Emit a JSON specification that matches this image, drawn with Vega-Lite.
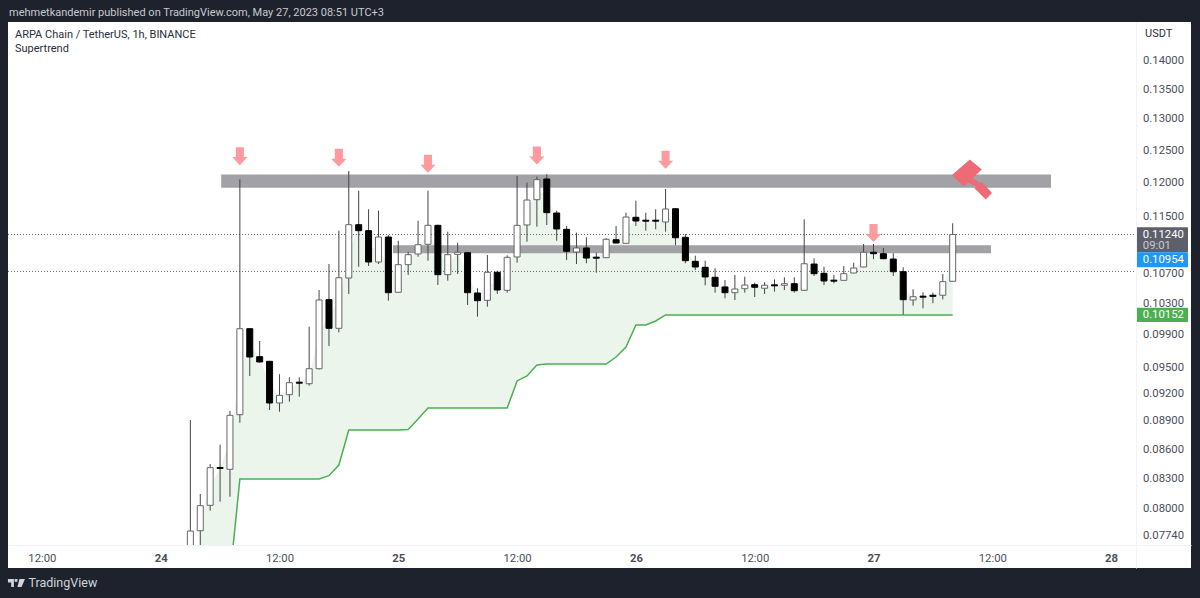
{
"$schema":"https://vega.github.io/schema/vega-lite/v6.json",
"width":1183,"height":546,
"autosize":{"type":"none"},
"padding":{"left":8,"top":22,"right":9,"bottom":30},
"background":"#1e222d",
"view":{"fill":"#ffffff","stroke":null},
"config":{"font":"Roboto","text":{"font":"Roboto"}},
"datasets":{
"candles":[
{"t":"2023-05-24T03:00Z","open":0.07499,"high":0.08900,"low":0.07451,"close":0.07778},
{"t":"2023-05-24T04:00Z","open":0.07781,"high":0.08140,"low":0.07596,"close":0.08023,"st":0.07114,"mid":0.07902},
{"t":"2023-05-24T05:00Z","open":0.08027,"high":0.08445,"low":0.07974,"close":0.08407,"st":0.07210,"mid":0.08215},
{"t":"2023-05-24T06:00Z","open":0.08409,"high":0.08644,"low":0.08063,"close":0.08399,"st":0.07259,"mid":0.08404},
{"t":"2023-05-24T07:00Z","open":0.08390,"high":0.09000,"low":0.08113,"close":0.08952,"st":0.07331,"mid":0.08669},
{"t":"2023-05-24T08:00Z","open":0.08959,"high":0.12042,"low":0.08872,"close":0.09975,"st":0.08290,"mid":0.09446},
{"t":"2023-05-24T09:00Z","open":0.09975,"high":0.09978,"low":0.09396,"close":0.09623,"st":0.08290,"mid":0.09797},
{"t":"2023-05-24T10:00Z","open":0.09627,"high":0.09820,"low":0.09556,"close":0.09562,"st":0.08290,"mid":0.09594},
{"t":"2023-05-24T11:00Z","open":0.09570,"high":0.09575,"low":0.09011,"close":0.09089,"st":0.08290,"mid":0.09327},
{"t":"2023-05-24T12:00Z","open":0.09089,"high":0.09416,"low":0.08992,"close":0.09174,"st":0.08290,"mid":0.09133},
{"t":"2023-05-24T13:00Z","open":0.09181,"high":0.09381,"low":0.09103,"close":0.09319,"st":0.08290,"mid":0.09250},
{"t":"2023-05-24T14:00Z","open":0.09325,"high":0.09381,"low":0.09159,"close":0.09313,"st":0.08290,"mid":0.09319},
{"t":"2023-05-24T15:00Z","open":0.09307,"high":0.10001,"low":0.09284,"close":0.09480,"st":0.08290,"mid":0.09394},
{"t":"2023-05-24T16:00Z","open":0.09480,"high":0.10477,"low":0.09471,"close":0.10346,"st":0.08290,"mid":0.09903},
{"t":"2023-05-24T17:00Z","open":0.10350,"high":0.10826,"low":0.09758,"close":0.09980,"st":0.08324,"mid":0.10165},
{"t":"2023-05-24T18:00Z","open":0.09980,"high":0.11294,"low":0.09928,"close":0.10638,"st":0.08434,"mid":0.10307},
{"t":"2023-05-24T19:00Z","open":0.10634,"high":0.12172,"low":0.10425,"close":0.11378,"st":0.08797,"mid":0.11005},
{"t":"2023-05-24T20:00Z","open":0.11378,"high":0.11872,"low":0.10788,"close":0.11294,"st":0.08797,"mid":0.11336},
{"t":"2023-05-24T21:00Z","open":0.11294,"high":0.11599,"low":0.10798,"close":0.10854,"st":0.08797,"mid":0.11075},
{"t":"2023-05-24T22:00Z","open":0.10854,"high":0.11579,"low":0.10826,"close":0.11205,"st":0.08797,"mid":0.11030},
{"t":"2023-05-24T23:00Z","open":0.11205,"high":0.11233,"low":0.10337,"close":0.10442,"st":0.08797,"mid":0.10815},
{"t":"2023-05-25T00:00Z","open":0.10447,"high":0.11153,"low":0.10445,"close":0.10817,"st":0.08797,"mid":0.10628},
{"t":"2023-05-25T01:00Z","open":0.10817,"high":0.10999,"low":0.10674,"close":0.10957,"st":0.08802,"mid":0.10887},
{"t":"2023-05-25T02:00Z","open":0.10967,"high":0.11434,"low":0.10929,"close":0.11097,"st":0.08911,"mid":0.11033},
{"t":"2023-05-25T03:00Z","open":0.11103,"high":0.11872,"low":0.10873,"close":0.11369,"st":0.09033,"mid":0.11236},
{"t":"2023-05-25T04:00Z","open":0.11369,"high":0.11378,"low":0.10543,"close":0.10678,"st":0.09033,"mid":0.11023},
{"t":"2023-05-25T05:00Z","open":0.10678,"high":0.11280,"low":0.10599,"close":0.10957,"st":0.09033,"mid":0.10818},
{"t":"2023-05-25T06:00Z","open":0.10962,"high":0.11125,"low":0.10687,"close":0.10991,"st":0.09033,"mid":0.10976},
{"t":"2023-05-25T07:00Z","open":0.10985,"high":0.10988,"low":0.10281,"close":0.10442,"st":0.09033,"mid":0.10704},
{"t":"2023-05-25T08:00Z","open":0.10438,"high":0.10500,"low":0.10130,"close":0.10337,"st":0.09033,"mid":0.10387},
{"t":"2023-05-25T09:00Z","open":0.10342,"high":0.10953,"low":0.10259,"close":0.10710,"st":0.09033,"mid":0.10526},
{"t":"2023-05-25T10:00Z","open":0.10710,"high":0.10732,"low":0.10425,"close":0.10477,"st":0.09033,"mid":0.10595},
{"t":"2023-05-25T11:00Z","open":0.10473,"high":0.10948,"low":0.10442,"close":0.10920,"st":0.09033,"mid":0.10690},
{"t":"2023-05-25T12:00Z","open":0.10925,"high":0.12094,"low":0.10845,"close":0.11369,"st":0.09339,"mid":0.11146},
{"t":"2023-05-25T13:00Z","open":0.11374,"high":0.11990,"low":0.11139,"close":0.11735,"st":0.09396,"mid":0.11551},
{"t":"2023-05-25T14:00Z","open":0.11740,"high":0.12083,"low":0.11350,"close":0.12036,"st":0.09525,"mid":0.11887},
{"t":"2023-05-25T15:00Z","open":0.12047,"high":0.12120,"low":0.11374,"close":0.11549,"st":0.09537,"mid":0.11796},
{"t":"2023-05-25T16:00Z","open":0.11544,"high":0.11579,"low":0.11153,"close":0.11318,"st":0.09537,"mid":0.11430},
{"t":"2023-05-25T17:00Z","open":0.11313,"high":0.11360,"low":0.10882,"close":0.11005,"st":0.09537,"mid":0.11159},
{"t":"2023-05-25T18:00Z","open":0.10995,"high":0.11266,"low":0.10826,"close":0.11051,"st":0.09537,"mid":0.11023},
{"t":"2023-05-25T19:00Z","open":0.11051,"high":0.11201,"low":0.10836,"close":0.10910,"st":0.09537,"mid":0.10981},
{"t":"2023-05-25T20:00Z","open":0.10922,"high":0.10985,"low":0.10704,"close":0.10908,"st":0.09537,"mid":0.10915},
{"t":"2023-05-25T21:00Z","open":0.10915,"high":0.11191,"low":0.10912,"close":0.11173,"st":0.09537,"mid":0.11044},
{"t":"2023-05-25T22:00Z","open":0.11167,"high":0.11360,"low":0.11118,"close":0.11121,"st":0.09623,"mid":0.11145},
{"t":"2023-05-25T23:00Z","open":0.11117,"high":0.11549,"low":0.11114,"close":0.11486,"st":0.09746,"mid":0.11304},
{"t":"2023-05-26T00:00Z","open":0.11482,"high":0.11725,"low":0.11360,"close":0.11430,"st":0.10023,"mid":0.11458},
{"t":"2023-05-26T01:00Z","open":0.11441,"high":0.11549,"low":0.11294,"close":0.11427,"st":0.10023,"mid":0.11434},
{"t":"2023-05-26T02:00Z","open":0.11441,"high":0.11599,"low":0.11313,"close":0.11427,"st":0.10074,"mid":0.11434},
{"t":"2023-05-26T03:00Z","open":0.11416,"high":0.11897,"low":0.11280,"close":0.11603,"st":0.10152,"mid":0.11507},
{"t":"2023-05-26T04:00Z","open":0.11607,"high":0.11613,"low":0.11089,"close":0.11195,"st":0.10152,"mid":0.11399},
{"t":"2023-05-26T05:00Z","open":0.11201,"high":0.11247,"low":0.10836,"close":0.10873,"st":0.10152,"mid":0.11037},
{"t":"2023-05-26T06:00Z","open":0.10864,"high":0.10943,"low":0.10742,"close":0.10784,"st":0.10152,"mid":0.10825},
{"t":"2023-05-26T07:00Z","open":0.10780,"high":0.10873,"low":0.10539,"close":0.10648,"st":0.10152,"mid":0.10711},
{"t":"2023-05-26T08:00Z","open":0.10644,"high":0.10766,"low":0.10442,"close":0.10526,"st":0.10152,"mid":0.10585},
{"t":"2023-05-26T09:00Z","open":0.10517,"high":0.10608,"low":0.10368,"close":0.10442,"st":0.10152,"mid":0.10479},
{"t":"2023-05-26T10:00Z","open":0.10442,"high":0.10674,"low":0.10346,"close":0.10490,"st":0.10152,"mid":0.10465},
{"t":"2023-05-26T11:00Z","open":0.10494,"high":0.10652,"low":0.10442,"close":0.10542,"st":0.10152,"mid":0.10517},
{"t":"2023-05-26T12:00Z","open":0.10547,"high":0.10573,"low":0.10385,"close":0.10513,"st":0.10152,"mid":0.10529},
{"t":"2023-05-26T13:00Z","open":0.10500,"high":0.10578,"low":0.10425,"close":0.10539,"st":0.10152,"mid":0.10519},
{"t":"2023-05-26T14:00Z","open":0.10545,"high":0.10617,"low":0.10455,"close":0.10532,"st":0.10152,"mid":0.10539},
{"t":"2023-05-26T15:00Z","open":0.10539,"high":0.10644,"low":0.10477,"close":0.10560,"st":0.10152,"mid":0.10549},
{"t":"2023-05-26T16:00Z","open":0.10560,"high":0.10644,"low":0.10442,"close":0.10468,"st":0.10152,"mid":0.10514},
{"t":"2023-05-26T17:00Z","open":0.10473,"high":0.11454,"low":0.10470,"close":0.10830,"st":0.10152,"mid":0.10648},
{"t":"2023-05-26T18:00Z","open":0.10826,"high":0.10906,"low":0.10661,"close":0.10691,"st":0.10152,"mid":0.10758},
{"t":"2023-05-26T19:00Z","open":0.10696,"high":0.10788,"low":0.10543,"close":0.10595,"st":0.10152,"mid":0.10645},
{"t":"2023-05-26T20:00Z","open":0.10606,"high":0.10674,"low":0.10565,"close":0.10593,"st":0.10152,"mid":0.10599},
{"t":"2023-05-26T21:00Z","open":0.10604,"high":0.10798,"low":0.10601,"close":0.10691,"st":0.10152,"mid":0.10648},
{"t":"2023-05-26T22:00Z","open":0.10700,"high":0.10845,"low":0.10698,"close":0.10770,"st":0.10152,"mid":0.10735},
{"t":"2023-05-26T23:00Z","open":0.10784,"high":0.11107,"low":0.10782,"close":0.10991,"st":0.10152,"mid":0.10888},
{"t":"2023-05-27T00:00Z","open":0.10991,"high":0.11107,"low":0.10896,"close":0.10971,"st":0.10152,"mid":0.10981},
{"t":"2023-05-27T01:00Z","open":0.10971,"high":0.11051,"low":0.10892,"close":0.10901,"st":0.10152,"mid":0.10936},
{"t":"2023-05-27T02:00Z","open":0.10896,"high":0.10976,"low":0.10661,"close":0.10718,"st":0.10152,"mid":0.10809},
{"t":"2023-05-27T03:00Z","open":0.10718,"high":0.10780,"low":0.10156,"close":0.10350,"st":0.10152,"mid":0.10533},
{"t":"2023-05-27T04:00Z","open":0.10346,"high":0.10486,"low":0.10272,"close":0.10389,"st":0.10152,"mid":0.10368},
{"t":"2023-05-27T05:00Z","open":0.10396,"high":0.10447,"low":0.10238,"close":0.10383,"st":0.10152,"mid":0.10389},
{"t":"2023-05-27T06:00Z","open":0.10408,"high":0.10442,"low":0.10303,"close":0.10394,"st":0.10152,"mid":0.10401},
{"t":"2023-05-27T07:00Z","open":0.10408,"high":0.10687,"low":0.10355,"close":0.10586,"st":0.10152,"mid":0.10497},
{"t":"2023-05-27T08:00Z","open":0.10591,"high":0.11398,"low":0.10589,"close":0.11240,"st":0.10152,"mid":0.10910}
]
},
"layer":[
{"data":{"name":"candles"},"transform":[{"filter":"isValid(datum.st)"}],
 "mark":{"type":"area","fill":"#ebf5ec","stroke":null,"interpolate":"linear","clip":true},
 "encoding":{
  "x":{"field":"t","type":"temporal","title":null,
   "scale":{"type":"utc","domain":["2023-05-23T08:34:48Z","2023-05-28T08:04:12Z"],"nice":false,"padding":0},
   "axis":{"orient":"bottom","offset":-23,"grid":false,"ticks":false,"domain":true,"domainColor":"#f0f3fa","domainWidth":1,"labelPadding":7,"labelFontSize":11.3,"labelColor":"#4a4e59","labelFont":"Roboto","labelFlush":false,"labelOverlap":false,"zindex":1,"tickCount":30,
    "values":["2023-05-23T12:00:00Z","2023-05-24T00:00:00Z","2023-05-24T12:00:00Z","2023-05-25T00:00:00Z","2023-05-25T12:00:00Z","2023-05-26T00:00:00Z","2023-05-26T12:00:00Z","2023-05-27T00:00:00Z","2023-05-27T12:00:00Z","2023-05-28T00:00:00Z"],
    "labelExpr":"utchours(datum.value)===0 ? utcFormat(datum.value,'%-d') : utcFormat(datum.value,'%H:%M')",
    "labelFontWeight":{"condition":{"test":"utchours(datum.value)===0","value":"bold"},"value":"normal"}}},
  "y":{"field":"mid","type":"quantitative","title":null,
   "scale":{"type":"linear","nice":false,"zero":false,
    "domain":[0.07422,0.0774,0.08,0.083,0.086,0.089,0.092,0.095,0.099,0.103,0.107,0.115,0.12,0.125,0.13,0.135,0.14,0.14674],
    "range":[546,513,486,456,427,398,371,345,312.5,281.5,251,194,160,128,96.5,67,38.5,0]},
   "axis":{"orient":"right","offset":-55,"grid":false,"ticks":false,"domain":true,"domainColor":"#f0f3fa","domainWidth":1,"labelPadding":6.5,"labelFontSize":11.3,"labelColor":"#4a4e59","labelFont":"Roboto","labelOverlap":false,"labelFlush":false,"zindex":1,"tickCount":40,
    "values":[0.0774,0.08,0.083,0.086,0.089,0.092,0.095,0.099,0.103,0.107,0.115,0.12,0.125,0.13,0.135,0.14],
    "format":".5f"}},
  "y2":{"field":"st"}
 }},
{"data":{"values":[{"a":"2023-05-24T06:07Z","b":"2023-05-27T17:56Z","top":0.12117,"bot":0.11916},{"a":"2023-05-24T23:28Z","b":"2023-05-27T11:52Z","top":0.11089,"bot":0.10976}]},
 "mark":{"type":"rect","fill":"#a1a1a6"},
 "encoding":{"x":{"field":"a","type":"temporal"},"x2":{"field":"b"},"y":{"field":"top","type":"quantitative"},"y2":{"field":"bot"}}},
{"data":{"values":[{"a":"2023-05-23T08:35Z","b":"2023-05-28T02:31Z","p":0.1124},{"a":"2023-05-23T08:35Z","b":"2023-05-28T02:31Z","p":0.10722}]},
 "mark":{"type":"rule","stroke":"#5d606b","strokeWidth":1,"strokeDash":[1,2]},
 "encoding":{"x":{"field":"a","type":"temporal"},"x2":{"field":"b"},"y":{"field":"p","type":"quantitative"}}},
{"data":{"name":"candles"},"transform":[{"filter":"isValid(datum.st)"}],
 "mark":{"type":"line","stroke":"#4caf50","strokeWidth":1.5,"clip":true},
 "encoding":{"x":{"field":"t","type":"temporal"},"y":{"field":"st","type":"quantitative"}}},
{"data":{"name":"candles"},
 "mark":{"type":"rule","stroke":"#444444","strokeWidth":1},
 "encoding":{"x":{"field":"t","type":"temporal"},"y":{"field":"low","type":"quantitative"},"y2":{"field":"high"}}},
{"data":{"name":"candles"},
 "mark":{"type":"bar","size":6,"strokeWidth":1},
 "encoding":{"x":{"field":"t","type":"temporal"},"y":{"field":"open","type":"quantitative"},"y2":{"field":"close"},
  "fill":{"condition":{"test":"datum.close<datum.open","value":"#000000"},"value":"#ffffff"},
  "stroke":{"condition":{"test":"datum.close<datum.open","value":"#000000"},"value":"#666666"}}},
{"data":{"values":[{"t":"2023-05-24T08:00Z","p":0.12403},{"t":"2023-05-24T18:00Z","p":0.12378},{"t":"2023-05-25T03:00Z","p":0.12284},{"t":"2023-05-25T14:00Z","p":0.12414},{"t":"2023-05-26T03:00Z","p":0.12348},{"t":"2023-05-27T00:00Z","p":0.11261}]},
 "mark":{"type":"point","filled":true,"fill":"#ff9a9e","opacity":1,"strokeWidth":0,"size":324,"shape":"M-0.45,-1 L0.45,-1 L0.45,0.1 L0.85,0.1 L0,1 L-0.85,0.1 L-0.45,0.1 Z"},
 "encoding":{"x":{"field":"t","type":"temporal"},"y":{"field":"p","type":"quantitative"}}},
{"data":{"values":[{"t":"2023-05-27T09:57Z","p":0.12039}]},
 "mark":{"type":"point","filled":true,"fill":"#ef6a77","opacity":1,"strokeWidth":0,"size":1600,"shape":"M-0.11,-1 L0.49,-0.5 L-0.42,0.35 L-1,-0.22 Z M0.01,-0.06 L0.44,0.19 L0.23,0.38 L-0.2,0.14 Z M0.49,0.11 L1,0.67 L0.69,1 L0.11,0.43 Z"},
 "encoding":{"x":{"field":"t","type":"temporal"},"y":{"field":"p","type":"quantitative"}}},
{"data":{"values":[{"a":"2023-05-23T08:34:48Z","b":"2023-05-28T08:04:12Z","top":0.07644,"bot":0.07422}]},
 "mark":{"type":"rect","fill":"#ffffff"},
 "encoding":{"x":{"field":"a","type":"temporal"},"x2":{"field":"b"},"y":{"field":"top","type":"quantitative"},"y2":{"field":"bot"}}},
{"data":{"values":[{"a":"2023-05-28T02:31Z","b":"2023-05-28T07:46Z","top":0.11341,"bot":0.1099,"c":"dark"},{"a":"2023-05-28T02:31Z","b":"2023-05-28T07:46Z","top":0.1099,"bot":0.1078,"c":"blue"},{"a":"2023-05-28T02:31Z","b":"2023-05-28T07:46Z","top":0.10246,"bot":0.10061,"c":"green"}]},
 "mark":{"type":"rect","cornerRadius":1},
 "encoding":{"x":{"field":"a","type":"temporal"},"x2":{"field":"b"},"y":{"field":"top","type":"quantitative"},"y2":{"field":"bot"},
  "fill":{"field":"c","type":"nominal","legend":null,"scale":{"domain":["dark","blue","green"],"range":["#5d606b","#2196f3","#4caf50"]}}}},
{"data":{"values":[{"t":"2023-05-28T03:12Z","p":0.1124,"label":"0.11240"},{"t":"2023-05-28T03:12Z","p":0.10882,"label":"0.10954"},{"t":"2023-05-28T03:12Z","p":0.10152,"label":"0.10152"}]},
 "mark":{"type":"text","align":"left","baseline":"middle","fontSize":11.3,"fill":"#ffffff","font":"Roboto"},
 "encoding":{"x":{"field":"t","type":"temporal"},"y":{"field":"p","type":"quantitative"},"text":{"field":"label"}}},
{"data":{"values":[{"t":"2023-05-28T03:12Z","p":0.11079,"label":"09:01"}]},
 "mark":{"type":"text","align":"left","baseline":"middle","fontSize":11.3,"fill":"#c8cad0","font":"Roboto"},
 "encoding":{"x":{"field":"t","type":"temporal"},"y":{"field":"p","type":"quantitative"},"text":{"field":"label"}}},
{"data":{"values":[{"t":"2023-05-28T03:26Z","p":0.14465,"label":"USDT"}]},
 "mark":{"type":"text","align":"left","baseline":"middle","fontSize":11,"fill":"#2a2e39","font":"Roboto"},
 "encoding":{"x":{"field":"t","type":"temporal"},"y":{"field":"p","type":"quantitative"},"text":{"field":"label"}}},
{"data":{"values":[{"t":"2023-05-23T09:17Z","p":0.14438,"label":"ARPA Chain / TetherUS, 1h, BINANCE"},{"t":"2023-05-23T09:17Z","p":0.14193,"label":"Supertrend"}]},
 "mark":{"type":"text","align":"left","baseline":"middle","fontSize":11,"fill":"#2a2e39","font":"Roboto"},
 "encoding":{"x":{"field":"t","type":"temporal"},"y":{"field":"p","type":"quantitative"},"text":{"field":"label"}}},
{"data":{"values":[{"t":"2023-05-23T08:41Z","p":0.14831,"label":"mehmetkandemir published on TradingView.com, May 27, 2023 08:51 UTC+3"}]},
 "mark":{"type":"text","align":"left","baseline":"middle","fontSize":11,"fill":"#c8cad0","font":"Roboto"},
 "encoding":{"x":{"field":"t","type":"temporal"},"y":{"field":"p","type":"quantitative"},"text":{"field":"label"}}},
{"data":{"values":[{"t":"2023-05-23T10:39Z","p":0.07273,"label":"TradingView"}]},
 "mark":{"type":"text","align":"left","baseline":"middle","fontSize":12.5,"fill":"#d1d4dc","font":"Roboto"},
 "encoding":{"x":{"field":"t","type":"temporal"},"y":{"field":"p","type":"quantitative"},"text":{"field":"label"}}},
{"data":{"values":[{"t":"2023-05-23T09:26Z","p":0.07278}]},
 "mark":{"type":"point","filled":true,"fill":"#d1d4dc","opacity":1,"strokeWidth":0,"size":289,"shape":"M-1,-0.47 L-0.3,-0.47 L-0.3,0.47 L-0.62,0.47 L-0.62,-0.05 L-1,-0.05 Z M-0.22,-0.47 L0.12,-0.47 L0.12,-0.13 L-0.22,-0.13 Z M0.35,-0.47 L1,-0.47 L0.6,0.47 L0.12,0.47 Z"},
 "encoding":{"x":{"field":"t","type":"temporal"},"y":{"field":"p","type":"quantitative"}}}
]
}
